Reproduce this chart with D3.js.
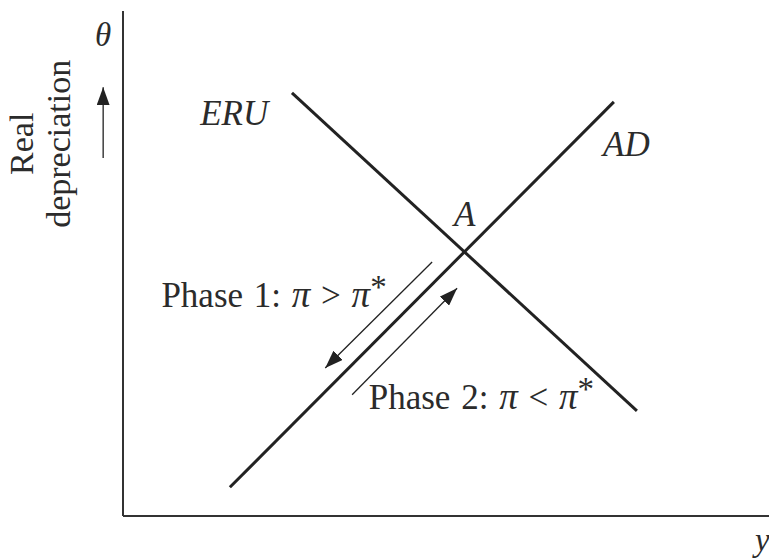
<!DOCTYPE html>
<html>
<head>
<meta charset="utf-8">
<script src="https://cdn.jsdelivr.net/npm/d3@7"></script>
<style>
  html, body { margin: 0; padding: 0; background: #fff; }
  svg text { font-family: "Liberation Serif", "Times New Roman", serif; fill: #2b2b2b; }
</style>
</head>
<body>
<script>
// Output y on the horizontal axis, real depreciation theta on the vertical axis.
const eruCurve = [ { y: 2.64, theta: 8.38 }, { y: 8.03, theta: 2.08 } ];
const adCurve  = [ { y: 1.67, theta: 0.57 }, { y: 7.67, theta: 8.20 } ];

// Adjustment paths along AD (start -> arrow head)
const phase1Path = [ { y: 4.83, theta: 5.03 }, { y: 3.16, theta: 2.93 } ];
const phase2Path = [ { y: 3.58, theta: 2.40 }, { y: 5.22, theta: 4.51 } ];

// Curve and point labels
const curveLabels = [
  { text: "ERU", y: 2.27, theta: 7.74, anchor: "end" },
  { text: "AD",  y: 7.50, theta: 7.12, anchor: "start" },
  { text: "A",   y: 5.34, theta: 5.75, anchor: "middle" }
];
const phaseLabels = [
  { name: "Phase 1: ", rel: " > ", y: 0.60, theta: 4.14 },
  { name: "Phase 2: ", rel: " < ", y: 3.84, theta: 2.12 }
];

const W = 769, H = 560;
const x = d3.scaleLinear().domain([0, 10]).range([123, 763]);
const yS = d3.scaleLinear().domain([0, 10]).range([516, 11]);

const svg = d3.select("body").append("svg")
  .attr("width", W).attr("height", H);

const defs = svg.append("defs");
defs.append("marker")
  .attr("id", "head")
  .attr("viewBox", "0 0 10 10")
  .attr("refX", 10).attr("refY", 5)
  .attr("markerWidth", 18).attr("markerHeight", 13)
  .attr("markerUnits", "userSpaceOnUse")
  .attr("orient", "auto")
  .attr("preserveAspectRatio", "none")
  .append("path")
  .attr("d", "M0,0 L10,5 L0,10 Z")
  .attr("fill", "#222");

// Axes: plain lines without ticks
svg.append("line")
  .attr("x1", x(0)).attr("y1", yS(10))
  .attr("x2", x(0)).attr("y2", yS(0))
  .attr("stroke", "#333").attr("stroke-width", 2);
svg.append("line")
  .attr("x1", x(0)).attr("y1", yS(0))
  .attr("x2", W).attr("y2", yS(0))
  .attr("stroke", "#333").attr("stroke-width", 2);

const line = d3.line().x(d => x(d.y)).y(d => yS(d.theta));

// ERU and AD schedules
[eruCurve, adCurve].forEach(c => {
  svg.append("path")
    .attr("d", line(c))
    .attr("fill", "none")
    .attr("stroke", "#222")
    .attr("stroke-width", 3);
});

// Phase arrows
[phase1Path, phase2Path].forEach(p => {
  svg.append("path")
    .attr("d", line(p))
    .attr("fill", "none")
    .attr("stroke", "#222")
    .attr("stroke-width", 1.3)
    .attr("marker-end", "url(#head)");
});

// Labels on the curves
curveLabels.forEach(l => {
  svg.append("text")
    .attr("x", x(l.y)).attr("y", yS(l.theta))
    .attr("text-anchor", l.anchor)
    .attr("font-style", "italic")
    .attr("font-size", 35)
    .text(l.text);
});

// Phase labels with italic pi and raised star
phaseLabels.forEach(l => {
  const t = svg.append("text")
    .attr("x", x(l.y)).attr("y", yS(l.theta))
    .attr("font-size", 35)
    .attr("word-spacing", 2);
  t.append("tspan").text(l.name);
  t.append("tspan").attr("font-style", "italic").attr("font-size", 37).text("\u03C0");
  t.append("tspan").text(l.rel);
  t.append("tspan").attr("font-style", "italic").attr("font-size", 37).text("\u03C0");
  t.append("tspan").attr("dy", -9).attr("font-size", 33).text("*");
});

// Vertical axis title and direction arrow
const titleG = svg.append("g")
  .attr("transform", `translate(33,${yS(7.37)})`)
  .append("g").attr("transform", "rotate(-90)");
titleG.append("text").attr("x", 0).attr("y", 0)
  .attr("text-anchor", "middle").attr("font-size", 34).text("Real");
titleG.append("text").attr("x", 0).attr("y", 37)
  .attr("text-anchor", "middle").attr("font-size", 34).text("depreciation");

svg.append("path")
  .attr("d", line([{ y: -0.31, theta: 7.09 }, { y: -0.31, theta: 8.49 }]))
  .attr("stroke", "#222").attr("stroke-width", 1.3)
  .attr("marker-end", "url(#head)");

svg.append("text")
  .attr("x", x(-0.31)).attr("y", yS(9.3))
  .attr("text-anchor", "middle")
  .attr("font-style", "italic").attr("font-size", 33)
  .text("\u03B8");

svg.append("text")
  .attr("x", x(9.99)).attr("y", yS(-0.7))
  .attr("text-anchor", "middle")
  .attr("font-style", "italic").attr("font-size", 33)
  .text("y");
</script>
</body>
</html>
